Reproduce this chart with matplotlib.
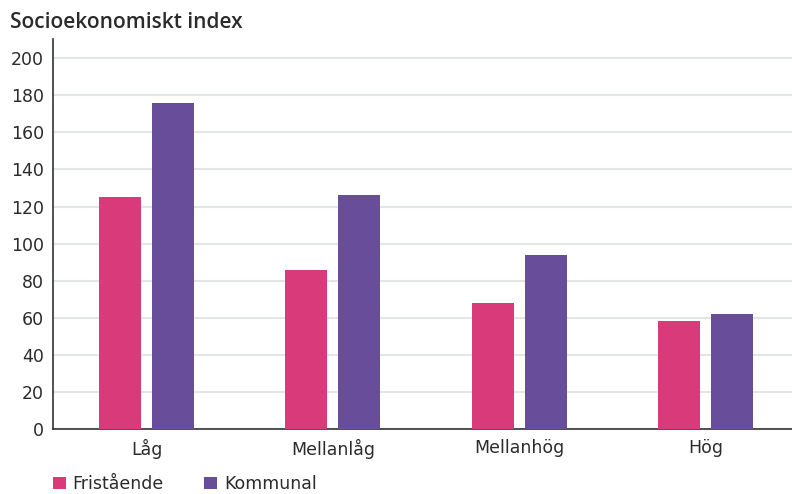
import matplotlib
matplotlib.use("Agg")
import matplotlib.pyplot as plt
import numpy as np

categories = ["Låg", "Mellanlåg", "Mellanhög", "Hög"]
series_names = ["Fristående", "Kommunal"]
fristaende = [125, 86, 68, 58]
kommunal = [176, 126, 94, 62]
yticks = [0, 20, 40, 60, 80, 100, 120, 140, 160, 180, 200]

pink = "#D93B7A"
purple = "#684E9A"
text_col = "#2b2b2b"

plt.rcParams['font.family'] = ['DejaVu Sans']

fig = plt.figure(figsize=(7.92, 4.94), dpi=100)
W, H = 792, 494
left, right, top, bottom = 53, 792, 39, 429
ax = fig.add_axes([left / W, 1 - bottom / H, (right - left) / W, (bottom - top) / H])

x = np.arange(len(categories))
bw = 0.2254
off = 0.1422
b1 = ax.bar(x - off, fristaende, bw, color=pink, label=series_names[0], zorder=3)
b2 = ax.bar(x + off, kommunal, bw, color=purple, label=series_names[1], zorder=3)

ax.set_xlim(-0.502, 3.464)
ax.set_ylim(0, 210.4)
ax.set_yticks(yticks)
ax.set_yticklabels([str(t) for t in yticks], fontsize=12.5, color=text_col)
ax.set_xticks(x)
ax.set_xticklabels(categories, fontsize=12.5, color=text_col)
ax.tick_params(axis='both', length=0)
ax.tick_params(axis='y', pad=6.5)
ax.tick_params(axis='x', pad=7)

ax.yaxis.grid(True, color="#e2e6e7", linewidth=1.5, zorder=0)
ax.set_axisbelow(True)
for s in ["top", "right"]:
    ax.spines[s].set_visible(False)
for s in ["left", "bottom"]:
    ax.spines[s].set_color("#333333")
    ax.spines[s].set_linewidth(1.2)

fig.text(10 / W, 1 - 23 / H, "Socioekonomiskt index", fontsize=15, fontweight="semibold",
         color=text_col, va="center", ha="left", family=['Open Sans', 'DejaVu Sans'])

leg = fig.legend(handles=[b1, b2], loc="center left", bbox_to_anchor=(53 / W, 1 - 484 / H),
                 ncol=2, frameon=False, fontsize=12.5, handlelength=0.72, handleheight=0.72,
                 handletextpad=0.4, columnspacing=2.35, borderaxespad=0, borderpad=0)
for t in leg.get_texts():
    t.set_color(text_col)

fig.savefig("out.png", dpi=100)
